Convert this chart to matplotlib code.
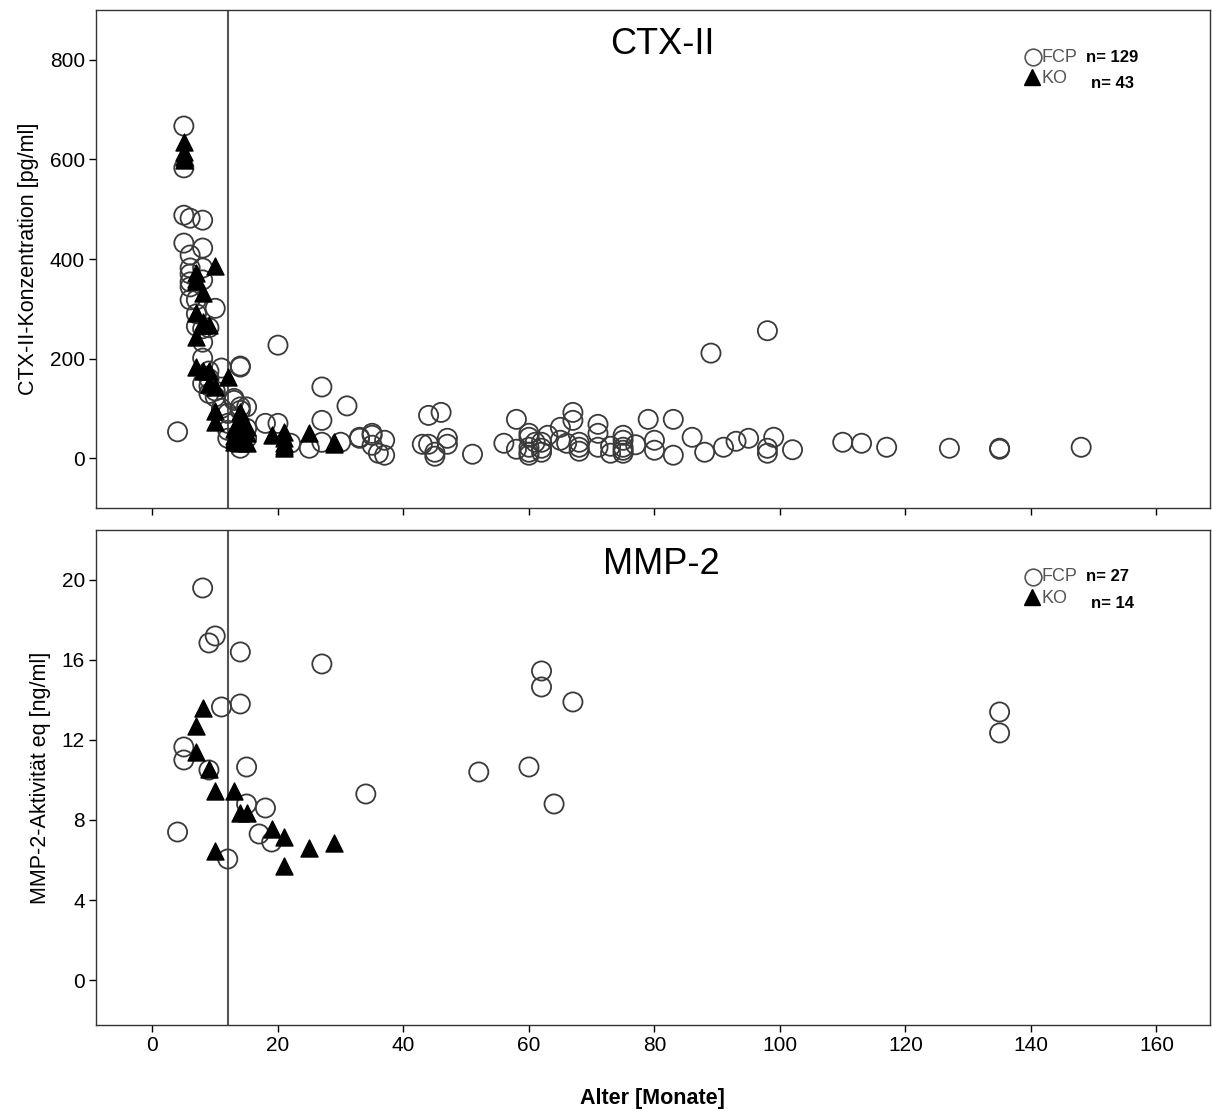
import matplotlib.pyplot as plt
import numpy as np

# CTX-II panel: age in months, concentration in pg/ml
ctx_fcp_age = [4, 5, 5, 5, 5, 6, 8, 8, 6, 6, 8, 6, 8, 6, 6, 7, 10, 7, 8, 9,
               8, 8, 11, 14, 9, 9, 10, 10, 12, 13, 14, 15, 12, 14, 18, 20, 22, 20, 27, 31,
               27, 27, 25, 30, 13, 14, 15, 9, 11, 12, 14, 33, 35, 35, 37, 36, 37, 44, 46, 43,
               44, 45, 45, 47, 47, 51, 56, 58, 58, 60, 60, 60, 60, 61, 62, 62, 63, 65, 65, 66,
               67, 67, 68, 68, 71, 71, 71, 73, 73, 75, 75, 75, 75, 77, 79, 80, 80, 83, 83, 86,
               88, 89, 91, 93, 95, 98, 98, 98, 99, 102, 110, 113, 117, 127, 135, 135, 148, 33, 35, 6,
               7, 9, 8, 12, 60, 62, 68, 75, 15]
ctx_fcp_val = [53, 667, 583, 488, 432, 482, 478, 422, 408, 382, 382, 354, 358, 344, 318, 318, 301, 265, 260, 262,
               233, 201, 181, 183, 145, 130, 123, 135, 90, 116, 96, 103, 56, 20, 70, 70, 30, 227, 143, 105,
               76, 32, 20, 32, 120, 103, 60, 160, 100, 70, 185, 42, 46, 26, 36, 10, 6, 86, 92, 28,
               28, 12, 4, 40, 28, 8, 30, 78, 18, 42, 22, 6, 50, 32, 32, 12, 46, 62, 36, 30,
               92, 76, 32, 14, 68, 50, 22, 24, 10, 46, 36, 22, 10, 27, 78, 36, 16, 78, 6, 42,
               12, 211, 22, 34, 40, 256, 20, 10, 42, 17, 32, 30, 22, 20, 20, 18, 22, 40, 50, 370,
               290, 175, 150, 40, 12, 20, 22, 16, 40]
ctx_ko_age = [5, 5, 5, 5, 10, 7, 7, 8, 7, 8, 9, 7, 7, 8, 9, 12, 9, 10, 10, 10,
              14, 13, 14, 15, 13, 15, 14, 13, 19, 21, 21, 21, 21, 25, 29, 29, 14, 15, 14, 7,
              8, 21, 13]
ctx_ko_val = [635, 615, 605, 598, 386, 372, 355, 331, 291, 273, 267, 244, 183, 175, 175, 163, 150, 143, 95, 72,
              92, 58, 60, 50, 32, 30, 30, 38, 46, 52, 40, 30, 20, 50, 32, 28, 75, 62, 52, 360,
              268, 25, 45]

# MMP-2 panel: age in months, activity in ng/ml
mmp_fcp_age = [8, 10, 9, 14, 27, 11, 14, 5, 5, 9, 15, 15, 18, 34, 4, 17, 19, 12,
               62, 62, 67, 52, 60, 64, 135, 135]
mmp_fcp_val = [19.6, 17.2, 16.85, 16.4, 15.8, 13.65, 13.8, 11.65, 11.0, 10.5, 10.65, 8.8, 8.6, 9.3, 7.4, 7.3, 6.9, 6.05,
               15.45, 14.65, 13.9, 10.4, 10.65, 8.8, 13.4, 12.35]
mmp_ko_age = [8, 7, 7, 9, 10, 13, 14, 15, 19, 21, 25, 29, 10, 21]
mmp_ko_val = [13.6, 12.7, 11.4, 10.55, 9.45, 9.45, 8.35, 8.35, 7.55, 7.15, 6.6, 6.85, 6.45, 5.7]

cutoff_age = 12
x_ticks = np.arange(0, 161, 20)

plt.rcParams['font.family'] = ['Liberation Sans', 'DejaVu Sans']

fig = plt.figure(figsize=(12.12, 11.15), dpi=100)
ax1 = fig.add_axes([0.0792, 0.5444, 0.919, 0.4466])
ax2 = fig.add_axes([0.0792, 0.0807, 0.919, 0.4440])

circle_kw = dict(marker='o', s=190, facecolors='none', edgecolors='#3a3a3a', linewidths=1.3, zorder=3)
tri_kw = dict(marker='^', s=150, color='black', zorder=4)


def style_axis(ax, yticks, ylabel, title):
    ax.set_xlim(-9, 168.5)
    ax.set_xticks(x_ticks)
    ax.set_yticks(yticks)
    ax.axvline(cutoff_age, color='#555555', lw=1.5, zorder=2)
    ax.set_ylabel(ylabel, fontsize=15.5, labelpad=8)
    ax.tick_params(axis='both', direction='out', length=5, width=1, labelsize=15, pad=3)
    for sp in ax.spines.values():
        sp.set_linewidth(1)
        sp.set_color('#333333')
    ax.text(0.508, 0.93, title, transform=ax.transAxes, ha='center', va='center', fontsize=26)


ax1.scatter(ctx_fcp_age, ctx_fcp_val, **circle_kw)
ax1.scatter(ctx_ko_age, ctx_ko_val, **tri_kw)
ax1.set_ylim(-100, 900)
style_axis(ax1, [0, 200, 400, 600, 800], 'CTX-II-Konzentration [pg/ml]', 'CTX-II')
ax1.tick_params(axis='x', labelbottom=False)

ax2.scatter(mmp_fcp_age, mmp_fcp_val, **circle_kw)
ax2.scatter(mmp_ko_age, mmp_ko_val, **tri_kw)
ax2.set_ylim(-2.25, 22.5)
style_axis(ax2, [0, 4, 8, 12, 16, 20], 'MMP-2-Aktivität eq [ng/ml]', 'MMP-2')
ax2.set_xlabel('Alter [Monate]', fontsize=15.5, fontweight='bold', labelpad=24)


def legend_block(ax, n_fcp, n_ko):
    t = ax.transAxes
    ax.plot([0.8415], [0.905], transform=t, marker='o', ms=12, mfc='none', mec='#555555', mew=1.2, clip_on=False)
    ax.text(0.849, 0.905, 'FCP', transform=t, fontsize=13, color='#555555', va='center')
    ax.text(0.889, 0.905, 'n= ' + str(n_fcp), transform=t, fontsize=12, fontweight='bold', va='center')
    ax.plot([0.840], [0.865], transform=t, marker='^', ms=11, color='black', clip_on=False)
    ax.text(0.849, 0.862, 'KO', transform=t, fontsize=13, color='#555555', va='center')
    ax.text(0.893, 0.852, 'n= ' + str(n_ko), transform=t, fontsize=12, fontweight='bold', va='center')


legend_block(ax1, 129, 43)
legend_block(ax2, 27, 14)

fig.savefig('out.png', dpi=100)
